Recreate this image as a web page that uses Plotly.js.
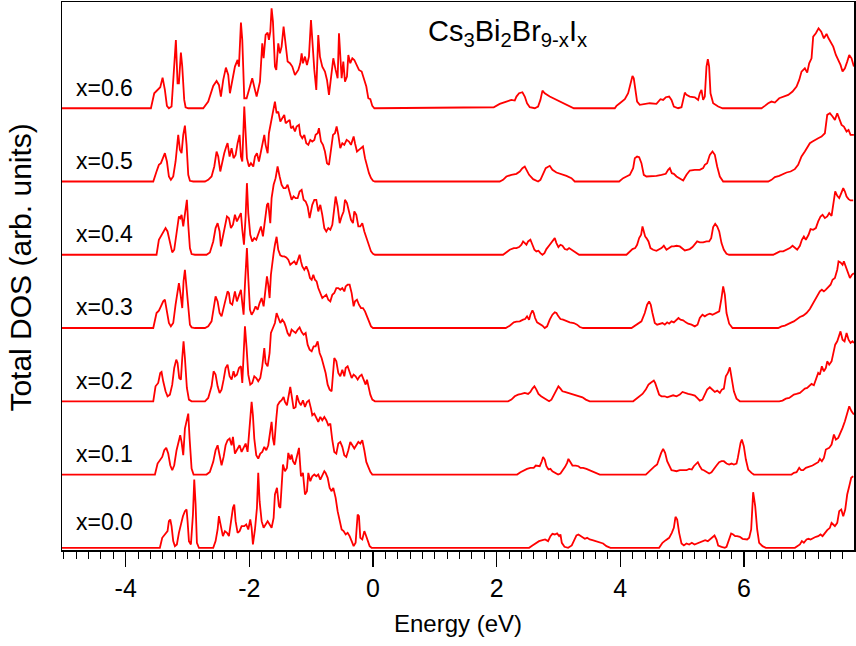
<!DOCTYPE html>
<html>
<head>
<meta charset="utf-8">
<script src="https://cdn.plot.ly/plotly-3.0.1.min.js"></script>
<style>html,body{margin:0;padding:0;background:#fff;}#chart{width:856px;height:646px;}</style>
</head>
<body>
<div id="chart"></div>
<script>
// Compositions (x in Cs3Bi2Br9-xIx) and vertical offsets (arb. units)
const compositions = ["x=0.0", "x=0.1", "x=0.2", "x=0.3", "x=0.4", "x=0.5", "x=0.6"];
const offsets = [0, 220, 440, 660, 880, 1100, 1320];

// Axis tick labels
const majorTickVals = [-4, -2, 0, 2, 4, 6];
const majorTickText = ["-4", "-2", "0", "2", "4", "6"];
const oddTickVals = [-5, -3, -1, 1, 3, 5, 7];

// ---- x = 0.0 ----
const energy_x00 = [-5.03,
-3.447,-3.409,-3.366,-3.323,-3.301,-3.279,-3.258,-3.231,-3.204,-3.172,
-3.139,-3.107,-3.074,-3.042,-3.015,-2.999,-2.977,-2.945,-2.912,-2.891,
-2.869,-2.848,-2.815,-2.584,-2.546,-2.513,-2.492,-2.460,-2.427,-2.395,
-2.362,-2.330,-2.298,-2.265,-2.244,-2.222,-2.190,-2.158,-2.125,-2.082,
-2.050,-2.017,-1.985,-1.963,-1.942,-1.909,-1.877,-1.856,-1.834,-1.801,
-1.769,-1.737,-1.704,-1.672,-1.640,-1.607,-1.586,-1.553,-1.521,-1.499,
-1.478,-1.456,-1.424,-1.392,-1.370,-1.338,-1.316,-1.294,-1.262,-1.230,
-1.197,-1.165,-1.133,-1.100,-1.068,-1.046,-1.014,-0.982,-0.949,-0.917,
-0.885,-0.852,-0.820,-0.787,-0.766,-0.733,-0.701,-0.669,-0.642,-0.604,
-0.572,-0.539,-0.507,-0.475,-0.442,-0.410,-0.378,-0.345,-0.313,-0.281,
-0.248,-0.227,-0.205,-0.173,-0.140,-0.119,-0.086,-0.054,-0.022,
2.525,2.579,2.633,2.686,2.741,2.784,2.832,2.870,2.902,2.940,
2.978,3.010,3.032,3.054,3.097,3.156,3.215,3.264,3.291,3.323,
3.356,3.388,3.426,3.463,3.506,3.550,3.603,3.668,3.722,3.776,
3.841,4.628,4.682,4.736,4.790,4.833,4.866,4.893,4.920,4.952,
4.990,5.028,5.071,5.114,5.157,5.200,5.243,5.286,5.329,5.373,
5.416,5.448,5.491,5.524,5.556,5.583,5.637,5.691,5.718,5.761,
5.793,5.826,5.858,5.890,5.934,5.977,6.014,6.052,6.085,6.117,
6.149,6.182,6.214,6.246,6.300,6.354,6.824,6.861,6.905,6.937,
6.969,7.012,7.045,7.077,7.120,7.163,7.201,7.239,7.271,7.309,
7.347,7.390,7.417,7.444,7.471,7.509,7.541,7.574,7.606,7.638,
7.670,7.703,7.735,7.767];
const dos_x00 = [0,
0,30,40,50,80,85,65,20,5,10,
45,75,95,110,115,80,20,10,100,205,
130,15,0,0,20,55,95,65,35,50,
45,35,85,120,130,80,45,50,65,65,
70,55,85,60,10,55,120,225,140,80,
60,70,80,70,60,90,160,180,125,120,
200,250,230,240,285,265,280,260,250,275,
300,215,225,160,170,225,200,215,220,215,
220,205,220,230,225,210,180,170,180,150,
110,85,55,50,40,45,35,20,5,15,
100,95,30,25,50,40,20,5,0,
0,7,15,20,23,25,20,35,42,40,
43,35,40,15,3,0,7,25,37,40,
35,33,27,30,25,23,20,15,13,5,
0,0,15,23,30,45,60,93,85,45,
13,7,13,10,15,10,13,15,20,23,
20,25,30,37,25,7,3,0,3,25,
43,40,35,35,33,27,27,25,30,55,
167,125,55,15,5,0,0,5,10,20,
15,25,27,25,30,33,35,40,35,45,
53,60,75,70,65,75,110,115,95,115,
160,185,210,215];

// ---- x = 0.1 ----
const energy_x01 = [-5.03,
-3.527,-3.484,-3.447,-3.409,-3.376,-3.344,-3.312,-3.279,-3.247,-3.215,
-3.177,-3.139,-3.118,-3.096,-3.069,-3.042,-3.015,-2.988,-2.966,-2.934,
-2.902,-2.692,-2.638,-2.584,-2.546,-2.513,-2.481,-2.449,-2.416,-2.384,
-2.352,-2.319,-2.287,-2.265,-2.233,-2.190,-2.158,-2.125,-2.093,-2.060,
-2.028,-2.006,-1.985,-1.963,-1.942,-1.920,-1.888,-1.856,-1.823,-1.791,
-1.758,-1.726,-1.694,-1.661,-1.640,-1.618,-1.597,-1.564,-1.543,-1.510,
-1.478,-1.446,-1.424,-1.392,-1.370,-1.338,-1.316,-1.284,-1.251,-1.230,
-1.197,-1.165,-1.133,-1.100,-1.068,-1.036,-1.003,-0.982,-0.949,-0.917,
-0.885,-0.852,-0.820,-0.787,-0.755,-0.723,-0.690,-0.658,-0.626,-0.593,
-0.561,-0.529,-0.496,-0.464,-0.432,-0.399,-0.367,-0.334,-0.302,-0.270,
-0.237,-0.205,-0.173,-0.140,-0.108,-0.076,-0.043,-0.011,
2.331,2.385,2.439,2.492,2.546,2.600,2.633,2.665,2.697,2.730,
2.751,2.778,2.805,2.838,2.870,2.902,2.940,2.994,3.032,3.075,
3.107,3.140,3.161,3.194,3.226,3.280,3.323,3.356,3.399,3.452,
3.506,3.560,3.614,3.668,4.413,4.467,4.520,4.558,4.596,4.628,
4.661,4.693,4.725,4.758,4.790,4.828,4.866,4.909,4.963,5.017,
5.071,5.114,5.157,5.189,5.222,5.254,5.286,5.319,5.351,5.394,
5.437,5.475,5.513,5.556,5.599,5.637,5.675,5.718,5.761,5.799,
5.836,5.880,5.901,5.923,5.945,5.966,5.998,6.031,6.069,6.122,
6.160,6.770,6.807,6.851,6.894,6.926,6.958,7.001,7.055,7.109,
7.163,7.201,7.228,7.260,7.293,7.325,7.379,7.417,7.455,7.487,
7.525,7.562,7.595,7.633,7.670,7.703,7.740,7.778];
const dos_x01 = [0,
0,33,43,53,73,80,63,28,13,28,
73,108,118,98,58,138,158,183,108,18,
0,0,8,38,73,88,58,28,53,88,
103,108,88,113,63,78,88,68,83,93,
68,118,178,218,178,108,58,48,63,68,
83,73,88,123,158,108,88,168,208,218,
223,233,218,208,228,263,238,198,203,238,
218,208,223,203,218,223,198,178,183,168,
158,173,163,173,163,148,153,103,68,63,
93,98,83,58,53,73,98,88,78,88,
98,93,103,73,38,23,8,0,
0,7,13,17,20,20,27,25,25,40,
53,45,25,15,17,10,5,0,3,13,
23,35,47,37,27,27,25,20,20,17,
13,10,5,0,0,10,20,25,30,50,
65,77,65,40,25,13,12,10,13,12,
13,17,15,25,30,37,25,15,13,8,
3,7,15,27,37,40,40,33,30,33,
30,33,50,75,95,105,85,45,15,5,
0,0,5,7,20,13,13,20,23,27,
33,37,47,40,50,75,80,90,120,105,
110,125,140,160,185,205,190,180];

// ---- x = 0.2 ----
const energy_x02 = [-5.03,
-3.554,-3.517,-3.474,-3.441,-3.420,-3.393,-3.355,-3.323,-3.285,-3.247,
-3.215,-3.182,-3.161,-3.134,-3.107,-3.085,-3.064,-3.042,-3.010,-2.977,
-2.934,-2.718,-2.665,-2.611,-2.578,-2.546,-2.513,-2.481,-2.449,-2.416,
-2.384,-2.352,-2.319,-2.287,-2.255,-2.233,-2.201,-2.168,-2.136,-2.114,
-2.093,-2.071,-2.044,-2.017,-1.985,-1.953,-1.920,-1.888,-1.856,-1.823,
-1.791,-1.758,-1.737,-1.704,-1.672,-1.651,-1.618,-1.586,-1.559,-1.532,
-1.499,-1.467,-1.435,-1.413,-1.381,-1.348,-1.316,-1.284,-1.251,-1.219,
-1.187,-1.154,-1.122,-1.089,-1.057,-1.025,-0.992,-0.960,-0.928,-0.895,
-0.863,-0.831,-0.798,-0.766,-0.733,-0.701,-0.669,-0.647,-0.626,-0.593,
-0.561,-0.529,-0.496,-0.464,-0.442,-0.410,-0.378,-0.345,-0.313,-0.281,
-0.248,-0.216,-0.183,-0.151,-0.119,-0.097,-0.076,-0.043,-0.011,0.032,
2.185,2.239,2.293,2.347,2.401,2.455,2.509,2.546,2.579,2.611,
2.643,2.676,2.719,2.762,2.805,2.848,2.886,2.924,2.967,2.999,
3.032,3.064,3.102,3.156,3.210,3.264,3.334,3.388,3.442,3.506,
4.208,4.261,4.315,4.359,4.412,4.456,4.488,4.520,4.542,4.564,
4.596,4.628,4.666,4.720,4.758,4.801,4.855,4.909,4.963,5.006,
5.044,5.098,5.152,5.205,5.243,5.286,5.329,5.367,5.405,5.448,
5.491,5.529,5.567,5.610,5.642,5.675,5.707,5.740,5.772,5.799,
5.837,5.880,5.934,6.570,6.624,6.678,6.732,6.770,6.807,6.851,
6.905,6.948,6.985,7.023,7.055,7.093,7.131,7.163,7.201,7.228,
7.260,7.293,7.325,7.347,7.379,7.417,7.444,7.476,7.509,7.541,
7.562,7.595,7.627,7.660,7.692,7.724,7.756,7.778];
const dos_x02 = [0,
0,45,55,85,88,60,30,15,20,50,
100,125,115,70,65,130,180,130,40,5,
0,0,10,45,90,80,45,25,35,65,
100,110,75,65,90,75,80,100,105,55,
130,225,160,80,50,55,75,70,60,70,
105,160,115,105,145,205,220,235,265,250,
235,245,237,225,205,195,215,210,205,215,
222,208,200,205,170,155,150,165,165,180,
145,130,110,85,50,35,30,70,130,120,
85,75,95,75,100,105,85,70,80,75,
65,75,80,65,50,65,45,20,5,0,
0,5,15,20,22,25,22,28,38,45,
35,22,15,10,5,0,5,20,35,45,
38,30,28,25,22,20,17,12,5,0,
0,8,18,22,35,50,55,60,62,55,
35,20,15,15,12,15,18,15,20,28,
25,22,20,17,10,2,5,22,35,42,
35,28,32,25,35,38,75,85,102,75,
30,8,0,0,2,8,10,15,20,22,
25,32,38,40,45,52,48,65,85,80,
105,90,100,120,110,120,140,170,180,195,
210,185,180,205,185,175,180,175];

// ---- x = 0.3 ----
const energy_x03 = [-5.03,
-3.554,-3.501,-3.463,-3.430,-3.393,-3.366,-3.333,-3.301,-3.269,-3.231,
-3.193,-3.161,-3.139,-3.112,-3.085,-3.064,-3.042,-3.020,-2.988,-2.961,
-2.934,-2.880,-2.718,-2.665,-2.611,-2.578,-2.546,-2.513,-2.481,-2.449,
-2.416,-2.384,-2.352,-2.330,-2.309,-2.276,-2.255,-2.233,-2.201,-2.168,
-2.136,-2.114,-2.093,-2.071,-2.039,-2.017,-1.990,-1.963,-1.931,-1.899,
-1.866,-1.834,-1.801,-1.769,-1.737,-1.715,-1.694,-1.672,-1.651,-1.629,
-1.607,-1.586,-1.559,-1.532,-1.499,-1.467,-1.435,-1.402,-1.370,-1.338,
-1.305,-1.273,-1.241,-1.208,-1.187,-1.165,-1.143,-1.111,-1.079,-1.046,
-1.019,-0.992,-0.965,-0.939,-0.912,-0.885,-0.852,-0.820,-0.787,-0.755,
-0.723,-0.690,-0.658,-0.626,-0.593,-0.561,-0.529,-0.496,-0.464,-0.442,
-0.410,-0.378,-0.345,-0.313,-0.291,-0.259,-0.227,-0.194,-0.162,-0.129,
-0.097,-0.065,-0.032,0.000,
2.147,2.212,2.277,2.320,2.374,2.428,2.460,2.492,2.525,2.546,
2.579,2.600,2.622,2.654,2.697,2.741,2.778,2.816,2.859,2.902,
2.940,2.967,2.999,3.032,3.075,3.129,3.183,3.248,3.301,3.345,
3.398,4.181,4.235,4.288,4.342,4.396,4.434,4.466,4.493,4.520,
4.558,4.596,4.639,4.682,4.720,4.758,4.790,4.828,4.866,4.909,
4.941,4.974,5.017,5.060,5.098,5.152,5.205,5.249,5.286,5.329,
5.367,5.405,5.448,5.491,5.529,5.567,5.600,5.637,5.664,5.691,
5.718,5.761,5.815,6.554,6.608,6.662,6.716,6.770,6.807,6.851,
6.905,6.958,7.012,7.066,7.120,7.163,7.201,7.228,7.260,7.293,
7.325,7.363,7.401,7.433,7.471,7.509,7.530,7.562,7.595,7.616,
7.649,7.681,7.714,7.746,7.778];
const dos_x03 = [0,
0,45,52,65,80,85,55,15,5,15,
70,110,135,100,60,140,175,130,50,10,
2,0,0,5,20,55,95,80,45,35,
60,85,110,105,75,70,90,110,80,100,
115,75,40,130,240,150,55,40,50,65,
55,75,90,65,110,155,130,90,160,200,
225,250,274,235,218,215,215,212,205,190,
195,200,190,205,220,200,185,175,185,170,
150,145,160,145,140,120,105,90,95,100,
85,80,100,105,120,120,115,120,110,125,
130,130,105,65,80,85,70,60,60,50,
35,20,5,0,
0,7,17,19,20,25,27,35,25,40,
53,45,30,17,13,7,0,5,25,40,
47,45,35,27,25,20,17,15,10,3,
0,0,7,13,20,45,70,80,70,45,
15,10,13,15,10,17,13,20,17,23,
30,25,23,17,13,10,5,10,30,40,
35,40,43,40,43,45,50,90,125,100,
45,13,0,0,5,7,13,17,20,27,
33,37,45,57,75,90,105,110,115,110,
115,123,130,145,150,175,200,197,190,200,
185,165,150,160,165];

// ---- x = 0.4 ----
const energy_x04 = [-5.03,
-3.501,-3.463,-3.430,-3.393,-3.355,-3.323,-3.285,-3.247,-3.215,-3.177,
-3.139,-3.118,-3.096,-3.069,-3.042,-3.010,-2.988,-2.961,-2.934,-2.880,
-2.692,-2.638,-2.584,-2.546,-2.513,-2.481,-2.460,-2.427,-2.395,-2.362,
-2.330,-2.298,-2.265,-2.233,-2.201,-2.168,-2.136,-2.114,-2.087,-2.060,
-2.039,-2.017,-1.985,-1.953,-1.920,-1.888,-1.845,-1.812,-1.780,-1.748,
-1.715,-1.694,-1.661,-1.640,-1.607,-1.575,-1.543,-1.510,-1.478,-1.446,
-1.413,-1.381,-1.348,-1.316,-1.284,-1.251,-1.219,-1.187,-1.154,-1.122,
-1.089,-1.057,-1.025,-1.003,-0.982,-0.949,-0.917,-0.885,-0.852,-0.820,
-0.787,-0.755,-0.723,-0.690,-0.658,-0.626,-0.604,-0.572,-0.539,-0.507,
-0.475,-0.453,-0.421,-0.388,-0.356,-0.324,-0.302,-0.270,-0.237,-0.205,
-0.173,-0.140,-0.108,-0.076,-0.032,0.000,0.032,
2.104,2.158,2.212,2.277,2.320,2.363,2.401,2.428,2.460,2.482,
2.509,2.546,2.579,2.611,2.643,2.676,2.708,2.741,2.773,2.805,
2.859,2.902,2.940,2.967,2.999,3.032,3.064,3.102,3.140,3.172,
3.210,3.248,3.291,3.334,4.100,4.154,4.197,4.240,4.272,4.305,
4.337,4.359,4.380,4.402,4.423,4.456,4.488,4.531,4.585,4.628,
4.666,4.704,4.747,4.790,4.828,4.866,4.909,4.963,5.006,5.044,
5.082,5.124,5.168,5.205,5.243,5.286,5.340,5.394,5.437,5.470,
5.502,5.535,5.567,5.600,5.637,5.675,5.718,5.761,6.473,6.527,
6.581,6.635,6.689,6.743,6.786,6.823,6.861,6.905,6.937,6.969,
7.001,7.045,7.077,7.120,7.163,7.201,7.239,7.271,7.309,7.347,
7.379,7.417,7.444,7.476,7.509,7.541,7.574,7.606,7.633,7.660,
7.692,7.724,7.767];
const dos_x04 = [0,
0,45,55,65,80,70,35,7,15,65,
115,110,120,85,130,165,90,20,2,0,
0,7,40,80,95,70,25,55,90,115,
110,80,90,120,100,115,125,75,30,115,
215,125,60,40,50,45,70,85,55,95,
150,155,95,170,210,230,265,235,210,200,
200,210,185,165,175,170,170,190,195,165,
160,145,110,135,150,165,165,130,150,120,
80,70,80,75,90,140,175,145,95,115,
130,165,155,130,105,95,130,120,85,85,
95,70,50,30,10,3,0,
0,7,15,20,20,23,30,40,35,30,
40,45,30,15,10,12,5,0,5,17,
30,40,50,35,23,30,27,17,15,20,
15,10,5,0,0,10,17,20,30,50,
60,85,70,55,50,40,20,15,12,15,
20,27,15,20,25,25,27,25,17,13,
15,17,23,30,40,37,37,40,40,50,
83,93,85,70,35,15,3,0,0,5,
10,10,15,20,27,20,15,27,45,55,
45,60,77,75,80,100,115,120,110,115,
125,117,150,190,177,170,185,200,190,175,
167,163,163];

// ---- x = 0.5 ----
const energy_x05 = [-5.03,
-3.554,-3.501,-3.463,-3.430,-3.393,-3.366,-3.333,-3.301,-3.269,-3.231,
-3.193,-3.150,-3.123,-3.096,-3.069,-3.042,-3.015,-2.988,-2.961,-2.907,
-2.718,-2.665,-2.611,-2.567,-2.530,-2.503,-2.470,-2.438,-2.406,-2.373,
-2.352,-2.319,-2.287,-2.255,-2.222,-2.190,-2.158,-2.136,-2.114,-2.082,
-2.060,-2.039,-2.006,-1.974,-1.936,-1.909,-1.877,-1.845,-1.812,-1.780,
-1.758,-1.737,-1.704,-1.683,-1.651,-1.629,-1.607,-1.586,-1.559,-1.532,
-1.499,-1.467,-1.435,-1.413,-1.381,-1.348,-1.327,-1.294,-1.262,-1.235,
-1.197,-1.176,-1.143,-1.111,-1.079,-1.046,-1.014,-0.982,-0.949,-0.928,
-0.895,-0.874,-0.841,-0.809,-0.777,-0.744,-0.712,-0.680,-0.647,-0.615,
-0.588,-0.561,-0.529,-0.496,-0.464,-0.426,-0.388,-0.356,-0.313,-0.291,
-0.259,-0.227,-0.194,-0.162,-0.129,-0.097,-0.065,-0.032,0.000,0.032,
2.050,2.104,2.158,2.239,2.320,2.374,2.417,2.455,2.482,2.525,
2.590,2.670,2.708,2.751,2.794,2.859,2.902,2.967,3.048,3.129,
3.210,3.264,3.981,4.046,4.100,4.154,4.208,4.235,4.272,4.305,
4.342,4.380,4.423,4.504,4.585,4.666,4.736,4.774,4.801,4.833,
4.866,4.909,4.963,5.017,5.071,5.124,5.205,5.286,5.340,5.367,
5.405,5.448,5.491,5.529,5.567,5.610,5.664,6.392,6.446,6.500,
6.570,6.635,6.689,6.754,6.823,6.877,6.931,6.985,7.023,7.066,
7.109,7.147,7.201,7.255,7.309,7.347,7.390,7.433,7.471,7.509,
7.541,7.579,7.616,7.660,7.692,7.724,7.778];
const dos_x05 = [0,
0,30,50,55,75,85,60,15,5,15,
60,140,95,85,140,168,110,20,2,0,
0,5,15,45,90,75,30,60,85,105,
115,75,100,70,80,115,140,75,60,225,
140,70,45,55,45,75,85,60,90,115,
140,110,85,145,180,200,215,240,205,210,
180,190,200,175,180,185,160,165,150,165,
170,140,130,140,115,110,125,120,125,140,
145,160,120,110,90,55,50,90,140,145,
165,140,100,115,110,125,120,110,135,115,
90,95,100,105,70,45,25,10,2,0,
0,5,15,20,23,30,40,45,35,20,
7,0,5,25,40,47,35,27,23,17,
10,0,0,10,15,20,40,70,75,73,
55,20,15,15,17,20,23,35,40,25,
23,15,10,3,20,33,35,35,40,50,
55,80,90,80,45,15,0,0,5,13,
17,23,27,30,37,50,75,90,100,115,
120,125,130,135,145,200,205,195,185,205,
190,170,165,150,155,140,140];

// ---- x = 0.6 ----
const energy_x06 = [-5.03,
-3.592,-3.538,-3.474,-3.441,-3.403,-3.366,-3.333,-3.301,-3.258,-3.215,
-3.188,-3.161,-3.139,-3.107,-3.085,-3.053,-3.031,-2.988,-2.746,-2.665,
-2.584,-2.530,-2.492,-2.460,-2.422,-2.379,-2.341,-2.314,-2.276,-2.233,
-2.190,-2.168,-2.136,-2.114,-2.082,-2.044,-1.990,-1.953,-1.909,-1.882,
-1.828,-1.791,-1.769,-1.737,-1.704,-1.683,-1.661,-1.640,-1.618,-1.586,
-1.564,-1.532,-1.505,-1.478,-1.446,-1.413,-1.381,-1.343,-1.305,-1.262,
-1.208,-1.176,-1.154,-1.133,-1.100,-1.068,-1.036,-1.003,-0.982,-0.949,
-0.917,-0.885,-0.858,-0.820,-0.777,-0.744,-0.712,-0.680,-0.642,-0.604,
-0.572,-0.550,-0.529,-0.507,-0.480,-0.453,-0.421,-0.399,-0.367,-0.334,
-0.302,-0.264,-0.227,-0.183,-0.140,-0.108,-0.076,-0.043,-0.011,0.022,
1.953,2.050,2.158,2.239,2.293,2.320,2.363,2.417,2.455,2.492,
2.536,2.617,2.670,2.708,2.741,2.778,2.859,2.967,3.075,3.183,
3.248,3.911,3.938,3.992,4.073,4.127,4.165,4.197,4.218,4.240,
4.272,4.315,4.396,4.477,4.585,4.650,4.693,4.736,4.790,4.828,
4.866,4.936,4.990,5.017,5.044,5.071,5.124,5.205,5.259,5.286,
5.313,5.340,5.367,5.394,5.416,5.437,5.459,5.502,5.583,5.654,
6.284,6.338,6.392,6.446,6.500,6.570,6.635,6.716,6.786,6.851,
6.894,6.931,6.985,7.023,7.055,7.093,7.120,7.163,7.207,7.250,
7.293,7.336,7.368,7.401,7.444,7.487,7.525,7.562,7.595,7.633,
7.670,7.703,7.740,7.778];
const dos_x06 = [0,
0,45,57,63,92,55,7,0,5,125,
205,75,75,167,125,25,3,0,0,20,
67,82,70,35,85,122,100,45,85,125,
145,125,257,205,30,30,65,90,55,35,
80,195,150,220,227,205,230,300,260,125,
115,195,165,185,245,195,140,135,125,100,
115,135,165,135,155,130,155,265,195,115,
55,220,155,125,110,85,40,85,150,115,
90,225,155,90,140,80,95,160,135,150,
145,130,115,110,85,65,30,27,7,0,
3,13,20,25,23,35,45,48,35,15,
3,0,5,25,53,45,35,25,15,7,
0,0,7,15,27,45,75,97,90,55,
20,10,13,15,13,27,25,33,35,25,
5,0,3,25,47,40,35,33,25,45,
55,25,35,125,147,125,45,15,5,0,
0,7,15,20,17,30,35,40,50,65,
85,110,120,107,135,150,215,225,240,230,
210,223,210,200,185,160,145,130,110,120,
140,160,150,125];

const energies = [energy_x00, energy_x01, energy_x02, energy_x03, energy_x04, energy_x05, energy_x06];
const dosValues = [dos_x00, dos_x01, dos_x02, dos_x03, dos_x04, dos_x05, dos_x06];

const FONT = "Liberation Sans, Arial, Helvetica, sans-serif";

const traces = energies.map((e, i) => ({
  type: "scatter",
  mode: "lines",
  x: e,
  y: dosValues[i].map(v => v + offsets[i]),
  line: { color: "#ff0000", width: 1.8 },
  name: compositions[i],
  showlegend: false,
  hoverinfo: "skip"
}));

const annotations = compositions.map((c, i) => ({
  text: c, xref: "x", yref: "y", x: -4.84, y: offsets[i] + (i === 0 ? 78 : 62),
  xanchor: "left", yanchor: "middle", showarrow: false,
  font: { family: FONT, size: 23, color: "#000" }
}));
annotations.push({
  text: "Cs<sub>3</sub>Bi<sub>2</sub>Br<sub>9-x</sub>I<sub>x</sub>",
  xref: "paper", yref: "paper", x: 0.563, y: 0.943,
  xanchor: "center", yanchor: "middle", showarrow: false,
  font: { family: FONT, size: 29, color: "#000" }
});
annotations.push({
  text: "Total DOS (arb. units)",
  xref: "paper", yref: "paper", x: -0.052, y: 0.515, textangle: -90,
  xanchor: "center", yanchor: "middle", showarrow: false,
  font: { family: FONT, size: 30, color: "#000" }
});

const xRange = [-5.03, 7.78];
const layout = {
  width: 856, height: 646,
  margin: { l: 62, r: 2, t: 2, b: 96 },
  paper_bgcolor: "#fff", plot_bgcolor: "#fff",
  font: { family: FONT, color: "#000" },
  xaxis: {
    range: xRange, tickmode: "array", tickvals: majorTickVals, ticktext: majorTickText,
    ticks: "outside", ticklen: 15, tickwidth: 1.3, tickcolor: "#000",
    minor: { tickmode: "linear", tick0: 0, dtick: 0.2, ticks: "outside", ticklen: 7, tickwidth: 1, tickcolor: "#000" },
    showline: true, mirror: true, linecolor: "#000", linewidth: 1.5,
    showgrid: false, zeroline: false,
    tickfont: { family: FONT, size: 25, color: "#000" },
    title: { text: "Energy (eV)", font: { family: FONT, size: 24, color: "#000" }, standoff: 14 }
  },
  xaxis2: {
    range: xRange, overlaying: "x", anchor: "y", side: "bottom",
    tickmode: "array", tickvals: oddTickVals, showticklabels: false,
    ticks: "outside", ticklen: 11, tickwidth: 1.2, tickcolor: "#000",
    showline: false, showgrid: false, zeroline: false
  },
  yaxis: {
    range: [-6.6, 1639], showticklabels: false, ticks: "",
    showline: true, mirror: true, linecolor: "#000", linewidth: 1.5,
    showgrid: false, zeroline: false
  },
  annotations: annotations,
  showlegend: false
};

Plotly.newPlot("chart", traces, layout, { staticPlot: true, displayModeBar: false });
</script>
</body>
</html>
